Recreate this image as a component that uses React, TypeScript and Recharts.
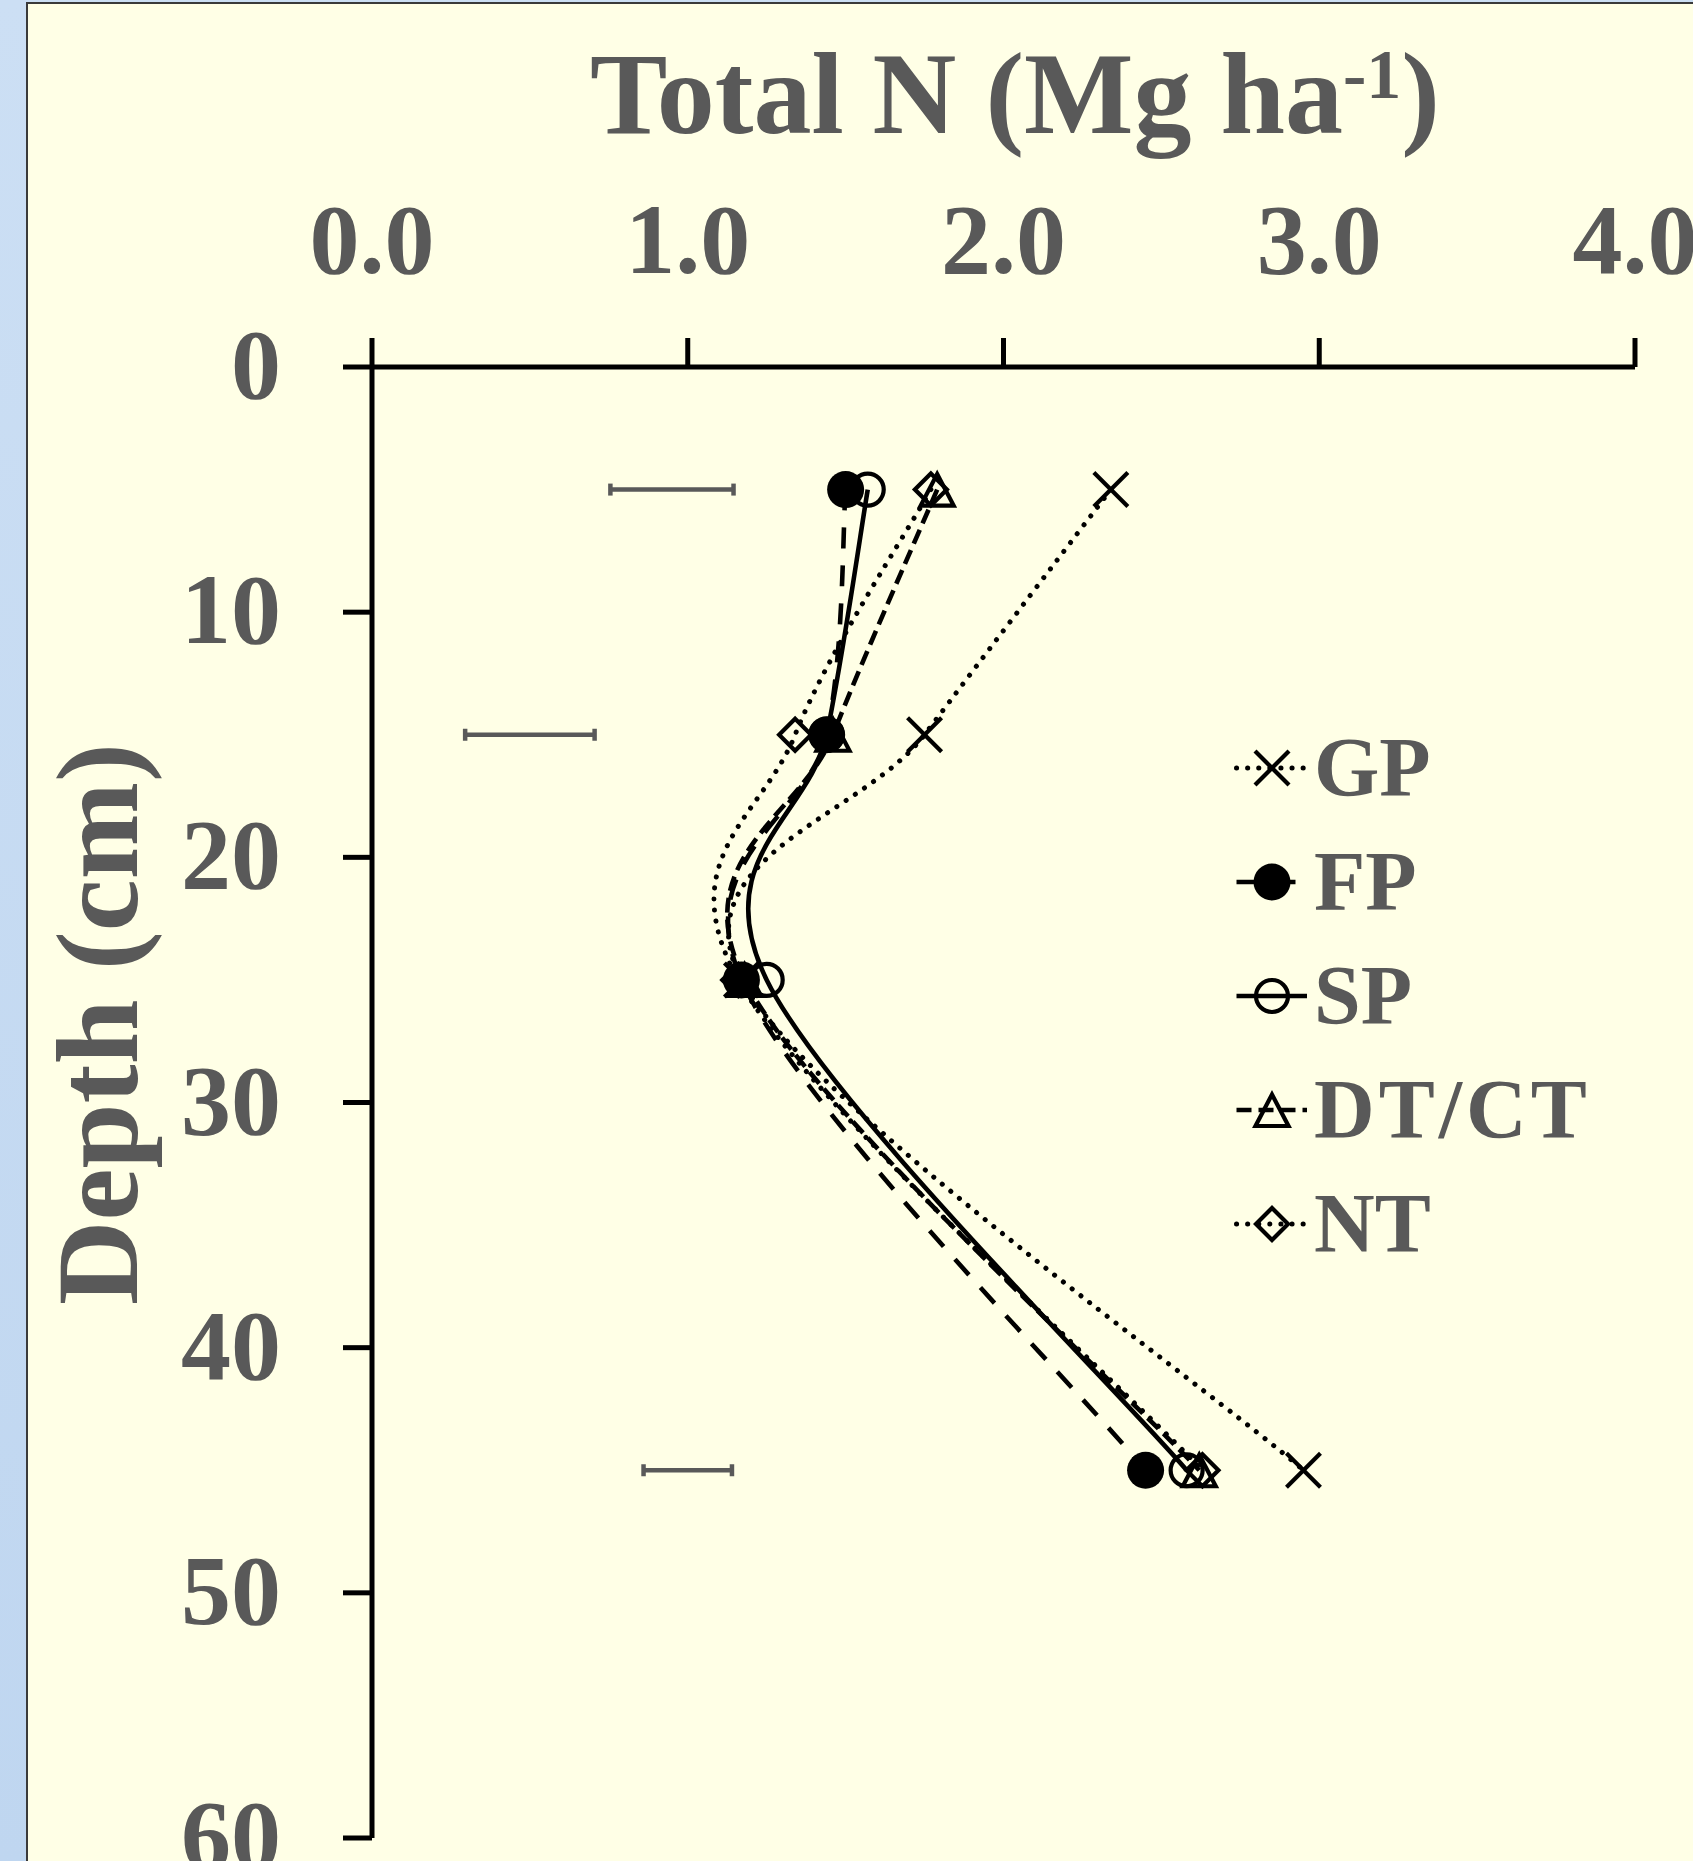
import React from 'react';
import { ComposedChart, Line, XAxis, YAxis, ErrorBar, Legend } from 'recharts';

// ---- data ----
const depths = [5, 15, 25, 45];
const GP = [2.34, 1.75, 1.17, 2.95];
const FP = [1.5, 1.44, 1.17, 2.45];
const SP = [1.57, 1.44, 1.25, 2.58];
const DTCT = [1.79, 1.46, 1.18, 2.62];
const NT = [1.77, 1.34, 1.16, 2.63];

const lsdDepths = [5, 15, 45];
const lsdCenters = [0.95, 0.5, 1.0];
const lsdHalfWidths = [0.195, 0.205, 0.14];

const xTicks = [0, 1, 2, 3, 4];
const yTicks = [0, 10, 20, 30, 40, 50, 60];

const seriesNames = ['GP', 'FP', 'SP', 'DT/CT', 'NT'];
const seriesKeys = ['GP', 'FP', 'SP', 'DTCT', 'NT'];

const data = depths.map((d, i) => ({
  depth: d,
  GP: GP[i],
  FP: FP[i],
  SP: SP[i],
  DTCT: DTCT[i],
  NT: NT[i],
}));

const lsdData = lsdDepths.map((d, i) => ({ depth: d, center: lsdCenters[i], err: lsdHalfWidths[i] }));

// ---- styles ----
const FONT = "'Liberation Serif', 'Times New Roman', serif";
const TEXT = '#595959';

type Style = { dash?: string; width: number; cap: 'round' | 'butt'; marker: string };
const styles: Record<string, Style> = {
  GP: { dash: '0.1 11', width: 5, cap: 'round', marker: 'x' },
  FP: { dash: '21 17', width: 4.6, cap: 'butt', marker: 'fcircle' },
  SP: { width: 4.6, cap: 'butt', marker: 'ocircle' },
  DTCT: { dash: '15 7', width: 4.6, cap: 'butt', marker: 'triangle' },
  NT: { dash: '0.1 11', width: 5, cap: 'round', marker: 'diamond' },
};

// Excel-like smoothed line (Catmull-Rom / cardinal with tension 0)
const excelSmooth = (context: any) => {
  let pts: number[][] = [];
  return {
    areaStart() {},
    areaEnd() {},
    lineStart() {
      pts = [];
    },
    point(x: number, y: number) {
      pts.push([+x, +y]);
    },
    lineEnd() {
      const n = pts.length;
      if (!n) return;
      context.moveTo(pts[0][0], pts[0][1]);
      for (let i = 0; i < n - 1; i++) {
        const p0 = pts[i - 1] || pts[i];
        const p1 = pts[i];
        const p2 = pts[i + 1];
        const p3 = pts[i + 2] || p2;
        context.bezierCurveTo(
          p1[0] + (p2[0] - p0[0]) / 6,
          p1[1] + (p2[1] - p0[1]) / 6,
          p2[0] - (p3[0] - p1[0]) / 6,
          p2[1] - (p3[1] - p1[1]) / 6,
          p2[0],
          p2[1]
        );
      }
    },
  };
};

const Marker = ({ shape, cx, cy }: { shape: string; cx: number; cy: number }) => {
  const sw = 4.2;
  switch (shape) {
    case 'x':
      return (
        <g stroke="#000" strokeWidth={sw} fill="none">
          <line x1={cx - 17} y1={cy - 17} x2={cx + 17} y2={cy + 17} />
          <line x1={cx - 17} y1={cy + 17} x2={cx + 17} y2={cy - 17} />
        </g>
      );
    case 'fcircle':
      return <circle cx={cx} cy={cy} r={18.5} fill="#000" stroke="none" />;
    case 'ocircle':
      return <circle cx={cx} cy={cy} r={16} fill="none" stroke="#000" strokeWidth={sw} />;
    case 'triangle':
      return (
        <polygon
          points={`${cx},${cy - 15.5} ${cx - 16.5},${cy + 16} ${cx + 16.5},${cy + 16}`}
          fill="none"
          stroke="#000"
          strokeWidth={sw}
          strokeLinejoin="miter"
        />
      );
    case 'diamond':
      return (
        <polygon
          points={`${cx},${cy - 16} ${cx + 16},${cy} ${cx},${cy + 16} ${cx - 16},${cy}`}
          fill="none"
          stroke="#000"
          strokeWidth={sw}
        />
      );
    default:
      return null;
  }
};

const makeDot = (shape: string) => (props: any) => {
  const { cx, cy, index } = props;
  if (cx == null || cy == null || isNaN(cx) || isNaN(cy)) return <g key={`${shape}-${index}`} />;
  return (
    <g key={`${shape}-${index}`}>
      <Marker shape={shape} cx={cx} cy={cy} />
    </g>
  );
};

const XTick = (props: any) => {
  const { x, y, payload } = props;
  return (
    <text x={x} y={y - 65} textAnchor="middle" fontFamily={FONT} fontWeight="bold" fontSize={100} fill={TEXT}>
      {Number(payload.value).toFixed(1)}
    </text>
  );
};

const YTick = (props: any) => {
  const { x, y, payload } = props;
  return (
    <text x={x - 62} y={y + 31} textAnchor="end" fontFamily={FONT} fontWeight="bold" fontSize={100} fill={TEXT}>
      {payload.value}
    </text>
  );
};

const LegendContent = () => (
  <div style={{ display: 'flex', flexDirection: 'column' }}>
    {seriesKeys.map((k, i) => {
      const s = styles[k];
      return (
        <div key={k} style={{ height: 114, display: 'flex', alignItems: 'center' }}>
          <svg width={72} height={40} style={{ display: 'block', overflow: 'visible' }}>
            <line
              x1={0.5}
              y1={20}
              x2={71}
              y2={20}
              stroke="#000"
              strokeWidth={s.width}
              strokeDasharray={s.dash}
              strokeLinecap={s.cap}
            />
            <Marker shape={s.marker} cx={36} cy={20} />
          </svg>
          <span
            style={{
              marginLeft: 6,
              fontFamily: FONT,
              fontWeight: 'bold',
              fontSize: 84,
              lineHeight: 1,
              color: TEXT,
              whiteSpace: 'nowrap',
              letterSpacing: k === 'DTCT' ? 4 : 0,
            }}
          >
            {seriesNames[i]}
          </span>
        </div>
      );
    })}
  </div>
);

export default function App() {
  return (
    <div
      style={{
        position: 'absolute',
        left: 0,
        top: 0,
        width: 1693,
        height: 1861,
        overflow: 'hidden',
        background: 'linear-gradient(#CCDFF4, #BFD6F0)',
      }}
    >
      <div
        style={{
          position: 'absolute',
          left: 26,
          top: 2,
          width: 1720,
          height: 1900,
          background: '#FFFFE6',
          borderLeft: '2px solid #3a3a3a',
          borderTop: '2px solid #3a3a3a',
        }}
      />
      <div style={{ position: 'absolute', left: 0, top: 0 }}>
        <ComposedChart
          width={1693}
          height={1861}
          layout="vertical"
          data={data}
          margin={{ top: 217, left: 172, right: 58, bottom: 23 }}
        >
          <XAxis
            type="number"
            orientation="top"
            domain={[0, 4]}
            ticks={xTicks}
            height={150}
            axisLine={{ stroke: '#000', strokeWidth: 5 }}
            tickLine={{ stroke: '#000', strokeWidth: 5 }}
            tickSize={29}
            tickMargin={0}
            tick={<XTick />}
            interval={0}
            allowDataOverflow
          />
          <YAxis
            type="number"
            dataKey="depth"
            domain={[0, 60]}
            ticks={yTicks}
            width={200}
            axisLine={{ stroke: '#000', strokeWidth: 5 }}
            tickLine={{ stroke: '#000', strokeWidth: 5 }}
            tickSize={29}
            tickMargin={0}
            tick={<YTick />}
            interval={0}
            allowDataOverflow
          />
          <Line
            data={lsdData}
            dataKey="center"
            stroke="none"
            dot={false}
            activeDot={false}
            isAnimationActive={false}
            legendType="none"
          >
            <ErrorBar dataKey="err" direction="x" width={6} strokeWidth={4.5} stroke={TEXT} isAnimationActive={false} />
          </Line>
          {seriesKeys.map((k, i) => {
            const s = styles[k];
            return (
              <Line
                key={k}
                dataKey={k}
                name={seriesNames[i]}
                type={excelSmooth as any}
                stroke="#000"
                strokeWidth={s.width}
                strokeDasharray={s.dash}
                strokeLinecap={s.cap}
                dot={makeDot(s.marker)}
                activeDot={false}
                isAnimationActive={false}
              />
            );
          })}
          <Legend
            layout="vertical"
            align="center"
            verticalAlign="middle"
            wrapperStyle={{ left: 1236, top: 711, width: 440 }}
            content={<LegendContent />}
          />
        </ComposedChart>
      </div>
      <svg
        width={1693}
        height={1861}
        style={{ position: 'absolute', left: 0, top: 0, pointerEvents: 'none' }}
      >
        <text x={1015} y={133} textAnchor="middle" fontFamily={FONT} fontWeight="bold" fontSize={116} fill={TEXT}>
          Total N (Mg ha
          <tspan fontSize={70} dy={-35}>
            -1
          </tspan>
          <tspan dy={35}>)</tspan>
        </text>
        <text
          transform="translate(137, 1024) rotate(-90)"
          textAnchor="middle"
          fontFamily={FONT}
          fontWeight="bold"
          fontSize={117}
          fill={TEXT}
        >
          Depth (cm)
        </text>
      </svg>
    </div>
  );
}
